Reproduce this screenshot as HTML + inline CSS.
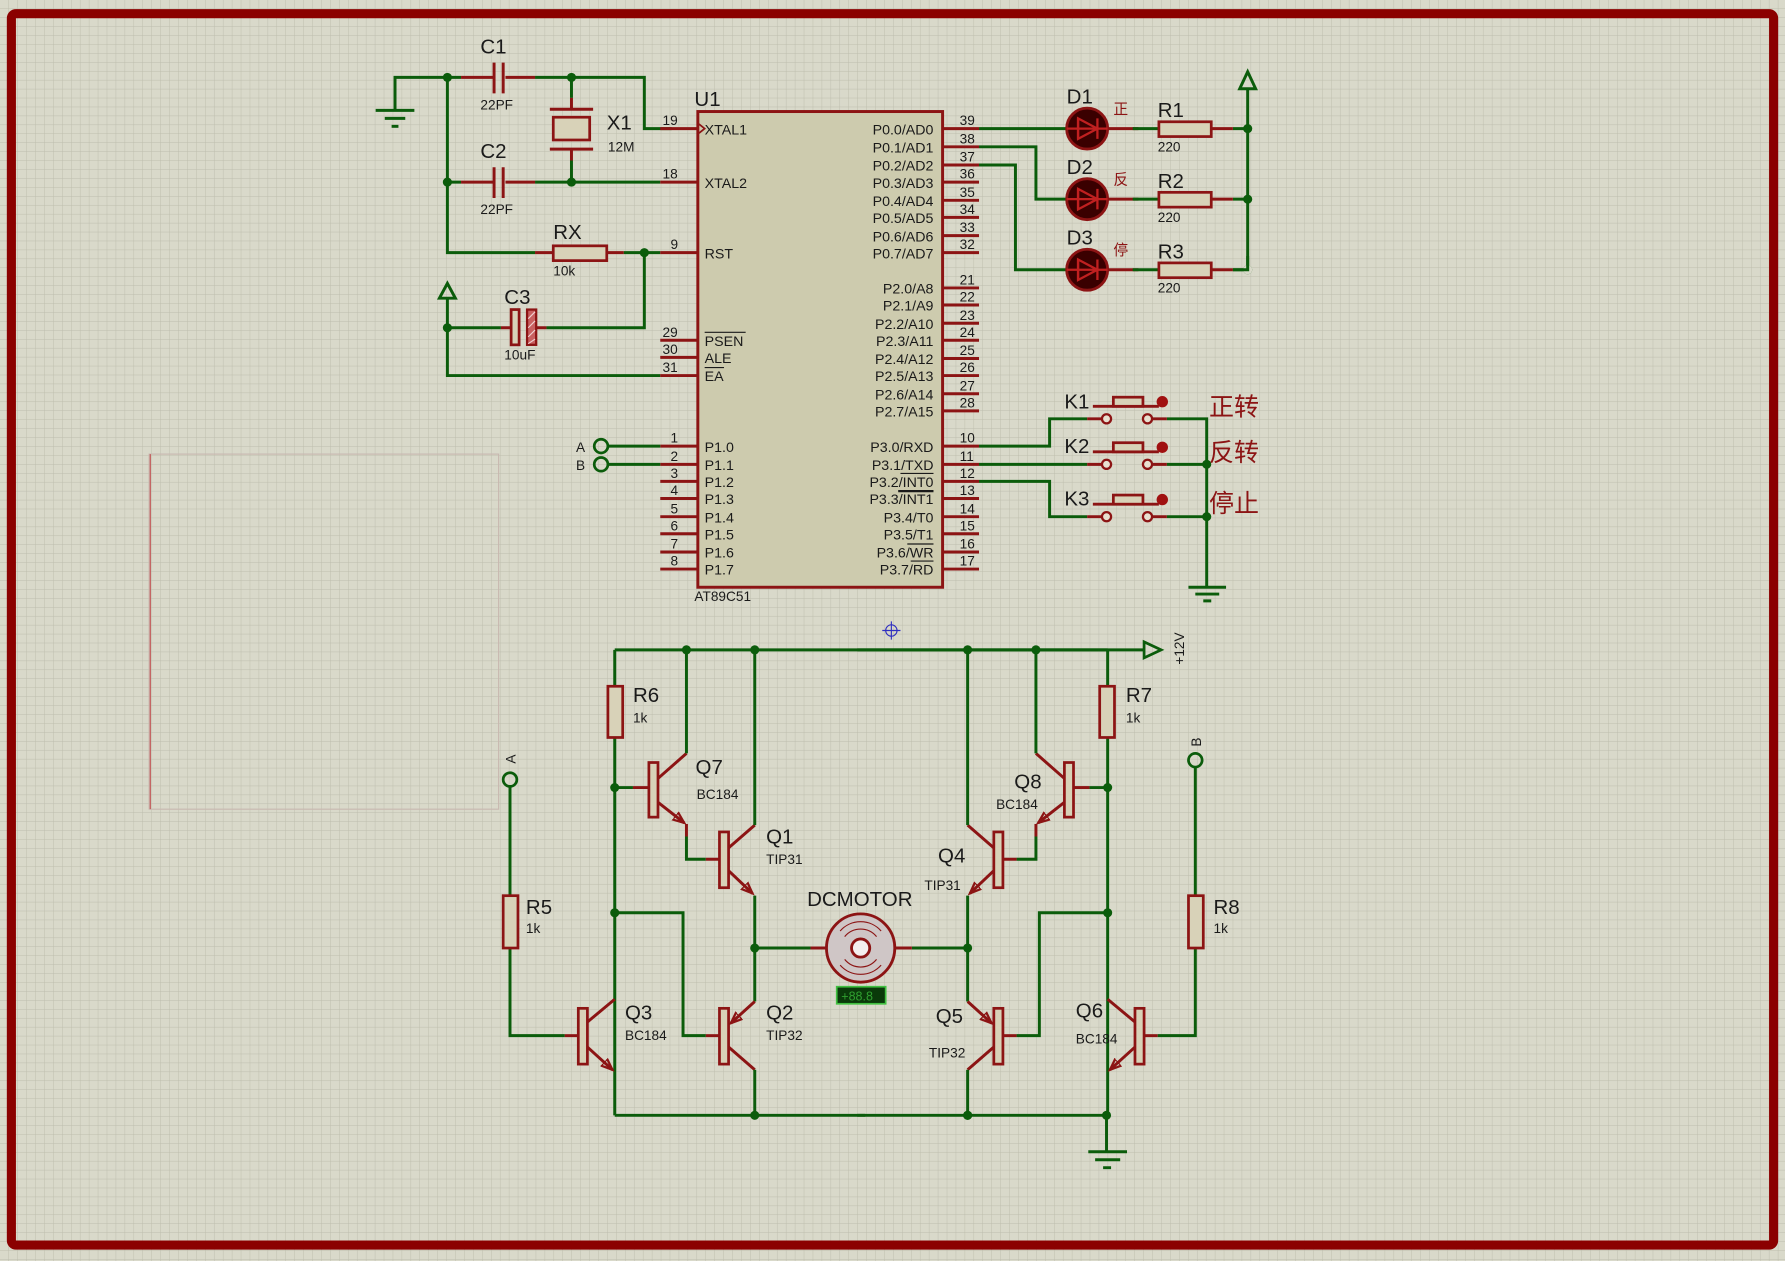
<!DOCTYPE html>
<html><head><meta charset="utf-8"><style>
html,body{margin:0;padding:0;background:#d9d9ca;}
svg{display:block;}
text{font-family:"Liberation Sans","Noto Sans CJK SC",sans-serif;fill:#1a1a1a;}
.w{stroke:#0b5c0b;stroke-width:2.6;fill:none;}
.r{stroke:#8c1414;stroke-width:2.6;fill:none;}
.rb{stroke:#8c1414;stroke-width:2.4;fill:#d8d2b8;}
.d{fill:#0b5c0b;}
.pn{font-size:12px;}
.pl{font-size:12.5px;}
.lb{font-size:18px;}
.sm{font-size:12px;}
</style></head><body>
<svg width="1785" height="1261" viewBox="0 0 1568 1108" preserveAspectRatio="none" xmlns="http://www.w3.org/2000/svg">
<defs>
<pattern id="g" width="7.85" height="7.85" patternUnits="userSpaceOnUse">
<path d="M7.85 0V7.85M0 7.85H7.85" stroke="#bdbdad" stroke-width="0.8" fill="none"/>
</pattern>
<marker id="a" markerWidth="14" markerHeight="12" refX="10" refY="5" orient="auto" markerUnits="userSpaceOnUse">
<path d="M0 1 L10 5 L0 9 Z" fill="none" stroke="#8c1414" stroke-width="2"/>
</marker>
<g id="half">
<path class="w" d="M540 571H760M540 980H760"/>
<path class="w" d="M540 571V603M540 648V980"/>
<rect class="rb" x="534" y="603" width="13" height="45"/>
<!-- Q7 -->
<path class="w" d="M540 692H556"/>
<path class="r" d="M556 692H570"/>
<rect class="rb" x="570" y="670" width="8" height="48"/>
<path class="r" d="M578 684L603 662"/>
<path class="w" d="M603 662V571"/>
<path class="r" d="M578 705L601 723" marker-end="url(#a)"/>
<path class="r" d="M603 724V735"/>
<path class="w" d="M603 735V755H620"/>
<path class="r" d="M620 755H632"/>
<!-- Q1 -->
<rect class="rb" x="632" y="731" width="8" height="49"/>
<path class="r" d="M640 745L663 725"/>
<path class="w" d="M663 725V571"/>
<path class="r" d="M640 765L661 785" marker-end="url(#a)"/>
<path class="w" d="M663 787V880"/>
<!-- Q2 -->
<path class="w" d="M540 802H600V910H620"/>
<path class="r" d="M620 910H632"/>
<rect class="rb" x="632" y="886" width="8" height="49"/>
<path class="r" d="M663 880L642 899" marker-end="url(#a)"/>
<path class="r" d="M640 920L663 940"/>
<path class="w" d="M663 940V980"/>
<!-- Q3 -->
<path class="r" d="M496 910H508"/>
<rect class="rb" x="508" y="886" width="8" height="49"/>
<path class="r" d="M516 898L540 878"/>
<path class="r" d="M516 920L538 940" marker-end="url(#a)"/>
<!-- motor wire -->
<path class="w" d="M663 833H712"/>
<path class="r" d="M712 833H727"/>
<circle class="d" cx="603" cy="571" r="4"/><circle class="d" cx="663" cy="571" r="4"/>
<circle class="d" cx="540" cy="692" r="4"/><circle class="d" cx="540" cy="802" r="4"/>
<circle class="d" cx="663" cy="833" r="4"/><circle class="d" cx="663" cy="980" r="4"/>
</g>
</defs>
<rect width="1568" height="1108" fill="#d9d9ca"/>
<rect width="1568" height="1108" fill="url(#g)"/>
<rect x="10" y="12" width="1548" height="1082" rx="4" fill="none" stroke="#8b0000" stroke-width="8"/>
<!-- faint left box -->
<rect x="131" y="399" width="307" height="312" fill="none" stroke="#c8b8b0" stroke-width="1"/>
<path d="M132 399V711" stroke="#c05050" stroke-width="1"/>

<!-- Oscillator / reset -->
<path class="w" d="M347 97V68H405M470 68H566V113H590"/>
<path class="w" d="M330 97H364" /><path class="w" d="M338 104H356"/><path class="w" d="M344 111H350"/>
<path class="r" d="M405 68H434M444 68H470"/>
<path class="r" d="M434 55V82M442 55V82" stroke-width="3"/>
<path class="w" d="M502 68V86M502 141V160"/>
<path class="r" d="M502 86V96M502 131V141M483 96H521M483 131H521"/>
<rect class="rb" x="486" y="103" width="32" height="20"/>
<path class="w" d="M393 68V222H470M393 160H405M470 160H580"/>
<path class="r" d="M405 160H434M444 160H470"/>
<path class="r" d="M434 147V174M442 147V174" stroke-width="3"/>
<path class="r" d="M470 222H486M533 222H548"/>
<rect class="rb" x="486" y="216" width="47" height="13"/>
<path class="w" d="M548 222H580M566 222V288H480"/>
<path class="r" d="M480 288H471M449 288H440"/>
<rect class="rb" x="449" y="272" width="7" height="31"/>
<rect x="463" y="272" width="8" height="31" fill="#c86060" stroke="#8c1414" stroke-width="2"/>
<path d="M464 280L470 274M464 288L470 282M464 296L470 290M464 302L470 298" stroke="#f0d0d0" stroke-width="1"/>
<path class="w" d="M440 288H393M393 262V330H580"/>
<path class="w" d="M386 262H400L393 249Z" />
<circle class="d" cx="393" cy="68" r="4"/><circle class="d" cx="502" cy="68" r="4"/>
<circle class="d" cx="393" cy="160" r="4"/><circle class="d" cx="502" cy="160" r="4"/>
<circle class="d" cx="566" cy="222" r="4"/><circle class="d" cx="393" cy="288" r="4"/>
<text x="422" y="47" class="lb">C1</text><text x="422" y="96" class="sm">22PF</text>
<text x="422" y="139" class="lb">C2</text><text x="422" y="188" class="sm">22PF</text>
<text x="533" y="114" class="lb">X1</text><text x="534" y="133" class="sm">12M</text>
<text x="486" y="210" class="lb">RX</text><text x="486" y="242" class="sm">10k</text>
<text x="443" y="267" class="lb">C3</text><text x="443" y="316" class="sm">10uF</text>

<!-- Chip U1 -->
<rect x="613" y="98" width="215" height="418" fill="#cdcbae" stroke="#8c1414" stroke-width="2.6"/>
<text x="610" y="93" class="lb">U1</text>
<text x="610" y="528" class="sm">AT89C51</text>
<path class="r" d="M580 113H613M580 160H613M580 222H613M580 299H613M580 314H613M580 330H613"/>
<path d="M614 109L619 113L614 117" fill="none" stroke="#8c1414" stroke-width="1.5"/>
<g class="pn">
<text x="582" y="110">19</text><text x="582" y="157">18</text><text x="589" y="219">9</text>
<text x="582" y="296">29</text><text x="582" y="311">30</text><text x="582" y="327">31</text>
</g>
<g class="pl">
<text x="619" y="118">XTAL1</text><text x="619" y="165">XTAL2</text><text x="619" y="227">RST</text>
<text x="619" y="304">PSEN</text><text x="619" y="319">ALE</text><text x="619" y="335">EA</text>
</g>
<path d="M619 292H655M619 323H636" stroke="#1a1a1a" stroke-width="1"/>
<!-- P1 pins -->
<g class="r">
<path d="M580 392H613M580 408H613M580 423H613M580 438H613M580 454H613M580 469H613M580 485H613M580 500H613"/>
</g>
<g class="pn">
<text x="589" y="389">1</text><text x="589" y="405">2</text><text x="589" y="420">3</text><text x="589" y="435">4</text>
<text x="589" y="451">5</text><text x="589" y="466">6</text><text x="589" y="482">7</text><text x="589" y="497">8</text>
</g>
<g class="pl">
<text x="619" y="397">P1.0</text><text x="619" y="413">P1.1</text><text x="619" y="428">P1.2</text><text x="619" y="443">P1.3</text>
<text x="619" y="459">P1.4</text><text x="619" y="474">P1.5</text><text x="619" y="490">P1.6</text><text x="619" y="505">P1.7</text>
</g>
<path class="w" d="M534 392H580M534 408H580"/>
<circle cx="528" cy="392" r="6" fill="none" stroke="#0b5c0b" stroke-width="2.4"/>
<circle cx="528" cy="408" r="6" fill="none" stroke="#0b5c0b" stroke-width="2.4"/>
<text x="506" y="397" class="sm">A</text><text x="506" y="413" class="sm">B</text>
<!-- right pins -->
<path class="r" d="M828 113H860M828 129H860M828 145H860M828 160H860M828 176H860M828 191H860M828 207H860M828 222H860
M828 253H860M828 268H860M828 284H860M828 299H860M828 315H860M828 330H860M828 346H860M828 361H860
M828 392H860M828 408H860M828 423H860M828 438H860M828 454H860M828 469H860M828 485H860M828 500H860"/>
<g class="pn">
<text x="843" y="110">39</text><text x="843" y="126">38</text><text x="843" y="142">37</text><text x="843" y="157">36</text>
<text x="843" y="173">35</text><text x="843" y="188">34</text><text x="843" y="204">33</text><text x="843" y="219">32</text>
<text x="843" y="250">21</text><text x="843" y="265">22</text><text x="843" y="281">23</text><text x="843" y="296">24</text>
<text x="843" y="312">25</text><text x="843" y="327">26</text><text x="843" y="343">27</text><text x="843" y="358">28</text>
<text x="843" y="389">10</text><text x="843" y="405">11</text><text x="843" y="420">12</text><text x="843" y="435">13</text>
<text x="843" y="451">14</text><text x="843" y="466">15</text><text x="843" y="482">16</text><text x="843" y="497">17</text>
</g>
<g class="pl" text-anchor="end">
<text x="820" y="118">P0.0/AD0</text><text x="820" y="134">P0.1/AD1</text><text x="820" y="150">P0.2/AD2</text><text x="820" y="165">P0.3/AD3</text>
<text x="820" y="181">P0.4/AD4</text><text x="820" y="196">P0.5/AD5</text><text x="820" y="212">P0.6/AD6</text><text x="820" y="227">P0.7/AD7</text>
<text x="820" y="258">P2.0/A8</text><text x="820" y="273">P2.1/A9</text><text x="820" y="289">P2.2/A10</text><text x="820" y="304">P2.3/A11</text>
<text x="820" y="320">P2.4/A12</text><text x="820" y="335">P2.5/A13</text><text x="820" y="351">P2.6/A14</text><text x="820" y="366">P2.7/A15</text>
<text x="820" y="397">P3.0/RXD</text><text x="820" y="413">P3.1/TXD</text><text x="820" y="428">P3.2/INT0</text><text x="820" y="443">P3.3/INT1</text>
<text x="820" y="459">P3.4/T0</text><text x="820" y="474">P3.5/T1</text><text x="820" y="490">P3.6/WR</text><text x="820" y="505">P3.7/RD</text>
</g>
<path d="M792 416H820M791 416H820M789 431H820M789 432H820M797 478H820M800 493H820" stroke="#1a1a1a" stroke-width="1"/>

<!-- LEDs -->
<path class="w" d="M860 113H937M860 129H910V175H937M860 145H892V237H937"/>
<path class="w" d="M1083 113H1096M1083 175H1096M1083 237H1096V78"/>
<path class="w" d="M1089 78H1103L1096 63Z"/>
<g id="led">
<circle cx="955" cy="113" r="18" fill="#3a0000" stroke="#8c1414" stroke-width="2.5"/>
<path d="M937 113H973M964 104V122M964 113L947 104V122Z" fill="none" stroke="#c02020" stroke-width="2"/>
<path d="M947 104V122" stroke="#c02020" stroke-width="2"/>
<path class="r" d="M973 113H1000"/><path class="w" d="M995 113H1018"/>
<rect class="rb" x="1018" y="107" width="46" height="13"/>
<path class="r" d="M1064 113H1083"/>
<circle class="d" cx="1096" cy="113" r="4"/>
</g>
<use href="#led" transform="translate(0 62)"/>
<use href="#led" transform="translate(0 124)"/>
<circle cx="1096" cy="237" r="4" fill="#d9d9ca"/>
<path class="w" d="M1083 237H1096V225"/>
<text x="937" y="91" class="lb">D1</text><text x="978" y="100" style="font-size:13px;fill:#8c1414">正</text>
<text x="937" y="153" class="lb">D2</text><text x="978" y="162" style="font-size:13px;fill:#8c1414">反</text>
<text x="937" y="215" class="lb">D3</text><text x="978" y="224" style="font-size:13px;fill:#8c1414">停</text>
<text x="1017" y="103" class="lb">R1</text><text x="1017" y="133" class="sm">220</text>
<text x="1017" y="165" class="lb">R2</text><text x="1017" y="195" class="sm">220</text>
<text x="1017" y="227" class="lb">R3</text><text x="1017" y="257" class="sm">220</text>

<!-- switches -->
<path class="w" d="M860 392H922V368H955M860 408H955M860 423H922V454H955"/>
<path class="w" d="M1025 368H1060V516M1025 408H1060M1025 454H1060"/>
<path class="w" d="M1044 516H1077M1050 522H1071M1057 528H1064"/>
<g id="sw">
<path class="r" d="M955 368H968M1012 368H1025M960 357H1018"/>
<rect class="rb" x="978" y="349" width="26" height="8"/>
<circle cx="972" cy="368" r="4" fill="#e8e0d0" stroke="#8c1414" stroke-width="2"/>
<circle cx="1008" cy="368" r="4" fill="#e8e0d0" stroke="#8c1414" stroke-width="2"/>
<circle cx="1021" cy="353" r="5" fill="#a01010"/>
</g>
<use href="#sw" transform="translate(0 40)"/>
<use href="#sw" transform="translate(0 86)"/>
<circle class="d" cx="1060" cy="408" r="4"/><circle class="d" cx="1060" cy="454" r="4"/>
<text x="935" y="359" class="lb">K1</text><text x="935" y="398" class="lb">K2</text><text x="935" y="444" class="lb">K3</text>
<g style="font-size:22px;fill:#8c1414">
<text x="1062" y="365" style="fill:#8c1414">正转</text>
<text x="1062" y="405" style="fill:#8c1414">反转</text>
<text x="1062" y="450" style="fill:#8c1414">停止</text>
</g>

<!-- crosshair -->
<circle cx="783" cy="554" r="5" fill="none" stroke="#3030c0" stroke-width="1"/>
<path d="M775 554H791M783 546V562" stroke="#3030c0" stroke-width="1"/>

<!-- H-bridge -->
<use href="#half"/>
<use href="#half" transform="translate(1513 0) scale(-1 1)"/>
<path class="w" d="M760 571H1005"/>
<path d="M1005 564L1020 571L1005 578Z" fill="none" stroke="#0b5c0b" stroke-width="2.4"/>
<text x="1040" y="584" class="sm" transform="rotate(-90 1040 584)">+12V</text>
<circle class="d" cx="850" cy="980" r="4"/>
<path class="w" d="M972 980V1012M956 1012H990M962 1019H984M969 1026H976"/>
<circle class="d" cx="972" cy="980" r="4"/>
<!-- R5 / A -->
<circle cx="448" cy="685" r="6" fill="none" stroke="#0b5c0b" stroke-width="2.4"/>
<text x="453" y="671" class="sm" transform="rotate(-90 453 671)">A</text>
<path class="w" d="M448 691V787M448 833V910H496"/>
<rect class="rb" x="442" y="787" width="13" height="46"/>
<!-- R8 / B -->
<circle cx="1050" cy="668" r="6" fill="none" stroke="#0b5c0b" stroke-width="2.4"/>
<text x="1055" y="656" class="sm" transform="rotate(-90 1055 656)">B</text>
<path class="w" d="M1050 674V787M1050 833V910H1017"/>
<rect class="rb" x="1044" y="787" width="13" height="46"/>
<!-- motor -->
<circle cx="756" cy="833" r="30" fill="#cfc6c6" stroke="#8c1414" stroke-width="2.5"/>
<path d="M738 818A24 24 0 0 1 774 818M742 823A18 18 0 0 1 770 823M738 848A24 24 0 0 0 774 848M742 843A18 18 0 0 0 770 843" fill="none" stroke="#8c1414" stroke-width="1"/>
<circle cx="756" cy="833" r="8" fill="#f4eeee" stroke="#8c1414" stroke-width="2.5"/>
<rect x="735" y="867" width="43" height="15" fill="#0a3a0a" stroke="#40c040" stroke-width="1.5"/>
<text x="739" y="879" style="font-size:11px;fill:#30a030">+88.8</text>
<text x="709" y="796" class="lb">DCMOTOR</text>
<!-- labels -->
<text x="556" y="617" class="lb">R6</text><text x="556" y="635" class="sm">1k</text>
<text x="611" y="680" class="lb">Q7</text><text x="612" y="702" class="sm">BC184</text>
<text x="673" y="741" class="lb">Q1</text><text x="673" y="759" class="sm">TIP31</text>
<text x="549" y="896" class="lb">Q3</text><text x="549" y="914" class="sm">BC184</text>
<text x="673" y="896" class="lb">Q2</text><text x="673" y="914" class="sm">TIP32</text>
<text x="462" y="803" class="lb">R5</text><text x="462" y="820" class="sm">1k</text>
<text x="891" y="693" class="lb">Q8</text><text x="875" y="711" class="sm">BC184</text>
<text x="824" y="758" class="lb">Q4</text><text x="812" y="782" class="sm">TIP31</text>
<text x="822" y="899" class="lb">Q5</text><text x="816" y="929" class="sm">TIP32</text>
<text x="945" y="894" class="lb">Q6</text><text x="945" y="917" class="sm">BC184</text>
<text x="989" y="617" class="lb">R7</text><text x="989" y="635" class="sm">1k</text>
<text x="1066" y="803" class="lb">R8</text><text x="1066" y="820" class="sm">1k</text>
</svg>
</body></html>
